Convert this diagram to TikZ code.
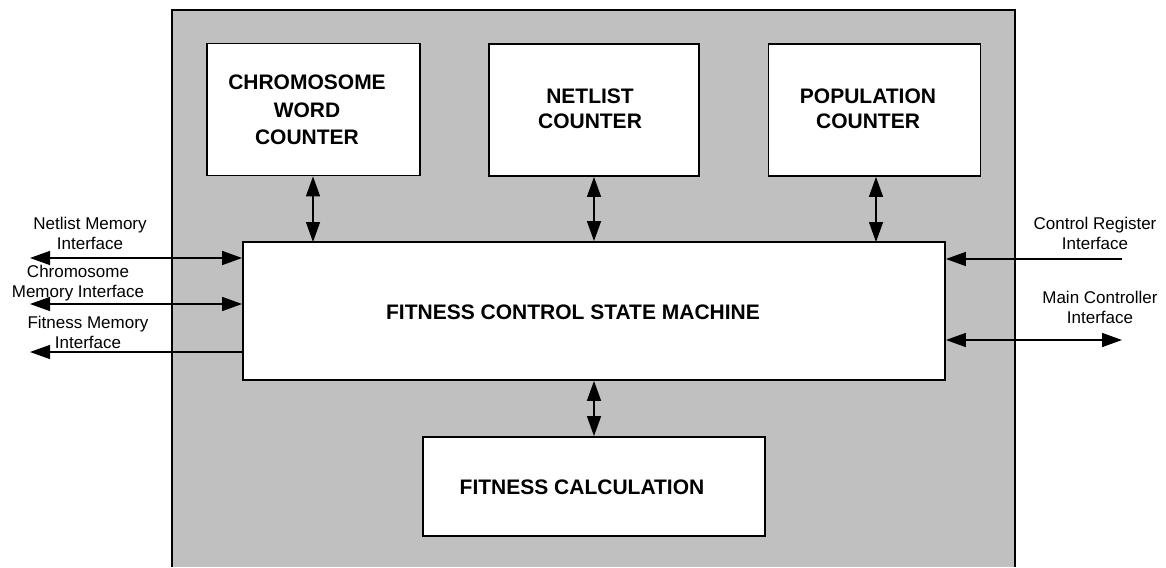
\documentclass[tikz,border=0pt]{standalone}
\usepackage{fontspec}
\setmainfont{Liberation Sans}
\usetikzlibrary{arrows.meta}
\definecolor{panelgray}{HTML}{C0C0C0}
\tikzset{
  block/.style={draw=black, line width=1.8pt, fill=white, inner sep=0pt},
  title/.style={font=\bfseries\fontsize{21}{25}\selectfont, align=center, inner sep=0pt},
  lbl/.style={font=\fontsize{17}{20}\selectfont, align=center, inner sep=0pt},
  link/.style={line width=1.4pt, {Triangle[length=20pt,width=14pt]}-{Triangle[length=20pt,width=14pt]}},
  outlink/.style={line width=1.4pt, -{Triangle[length=20pt,width=14pt]}}
}
\begin{document}
\begin{tikzpicture}[x=1pt,y=-1pt]
\useasboundingbox (0,0) rectangle (1166,567);
% grey panel, open at the bottom
\fill[panelgray] (172,10) rectangle (1015,567);
\draw[line width=1.8pt] (172,567) -- (172,10) -- (1015,10) -- (1015,567);

% counters
\node[block, minimum width=213pt, minimum height=132pt] (cwc) at (313.5,109.5) {};
\node[title, font=\bfseries\fontsize{21}{27.5}\selectfont] (cwct) at (307,110) {CHROMOSOME\\WORD\\COUNTER};
\node[block, minimum width=210pt, minimum height=132pt] (nc) at (594,110) {};
\node[title] (nct) at (590,109) {NETLIST\\COUNTER};
\node[block, minimum width=212pt, minimum height=132pt] (pc) at (874.5,110) {};
\node[title] (pct) at (868,109) {POPULATION\\COUNTER};

% state machine and fitness unit
\node[block, minimum width=702pt, minimum height=138pt] (fsm) at (594,311) {};
\node[title] (fsmt) at (573,312) {FITNESS CONTROL STATE MACHINE};
\node[block, minimum width=342pt, minimum height=99pt] (fc) at (594,486.5) {};
\node[title] (fct) at (582,487) {FITNESS CALCULATION};

% internal links
\draw[link] (cwc.south -| 313,0) -- (313,242);
\draw[link] (nc.south) -- (nc.south |- fsm.north);
\draw[link] (pc.south -| 876,0) -- (876,242);
\draw[link] (fsm.south) -- (fc.north);

% external interfaces, left
\coordinate (nmi) at (30,258);
\coordinate (cmi) at (30,304);
\coordinate (fmi) at (30,352);
\draw[link] (nmi) -- (nmi -| fsm.west);
\draw[link] (cmi) -- (cmi -| fsm.west);
\draw[outlink] (fmi -| fsm.west) -- (fmi);

% external interfaces, right
\coordinate (cri) at (1122,259);
\coordinate (mci) at (1122,340);
\draw[outlink] (cri) -- (cri -| fsm.east);
\draw[link] (mci -| fsm.east) -- (mci);

% interface labels
\node[lbl] (nmil) at (90,233) {Netlist Memory\\Interface};
\node[lbl] (cmil) at (78,283) {Chromosome\\Memory Interface};
\node[lbl] (fmil) at (88,332) {Fitness Memory\\Interface};
\node[lbl] (cril) at (1095,233) {Control Register\\Interface};
\node[lbl] (mcil) at (1100,307) {Main Controller\\Interface};
\end{tikzpicture}
\end{document}
